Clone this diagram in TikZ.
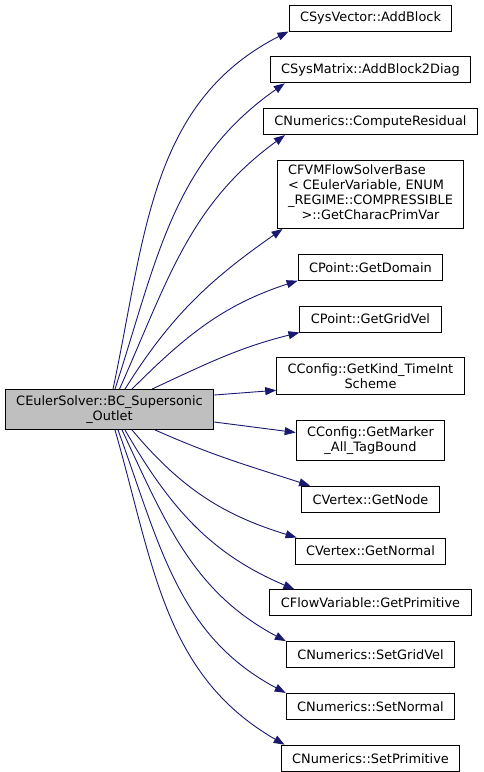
\documentclass[tikz,border=0pt]{standalone}
\usepackage{fontspec}
\setmainfont{DejaVu Sans}
\usetikzlibrary{arrows.meta,positioning}
\definecolor{edgeblue}{HTML}{191970}
\definecolor{callerfill}{HTML}{BFBFBF}

\begin{document}
\begin{tikzpicture}[x=1pt, y=1pt, node distance=24.8pt, every node/.style={align=center}]
        % 样式
        \tikzstyle{func} = [rectangle, draw=black, line width=1pt, fill=white, minimum height=26pt, inner xsep=11pt, inner ysep=6pt, text centered, font=\fontsize{12.9}{15}\selectfont]
        \tikzstyle{caller} = [func, fill=callerfill]
        \tikzstyle{arrow} = [edgeblue, line width=0.9pt, -{Triangle[length=11pt,width=8pt]}]

        \useasboundingbox (0,0) rectangle (484,-772);

        % 节点
        \node (solver) [caller] at (109.5,-409.5) {CEulerSolver::BC\_Supersonic\\\_Outlet};
        \node (callee1) [func] at (370.5,-18) {CSysVector::AddBlock};
        \node (callee2) [func, below=of callee1] {CSysMatrix::AddBlock2Diag};
        \node (callee3) [func, below=of callee2] {CNumerics::ComputeResidual};
        \node (callee4) [func, below=of callee3, inner ysep=4pt] {\begin{tabular}{@{}l@{}}CFVMFlowSolverBase\\< CEulerVariable, ENUM\\\_REGIME::COMPRESSIBLE\\\multicolumn{1}{@{}c@{}}{>::GetCharacPrimVar}\end{tabular}};
        \node (callee5) [func, below=of callee4] {CPoint::GetDomain};
        \node (callee6) [func, below=of callee5] {CPoint::GetGridVel};
        \node (callee7) [func, below=of callee6] {CConfig::GetKind\_TimeInt\\Scheme};
        \node (callee8) [func, below=of callee7] {CConfig::GetMarker\\\_All\_TagBound};
        \node (callee9) [func, below=of callee8] {CVertex::GetNode};
        \node (callee10) [func, below=of callee9] {CVertex::GetNormal};
        \node (callee11) [func, below=of callee10] {CFlowVariable::GetPrimitive};
        \node (callee12) [func, below=of callee11] {CNumerics::SetGridVel};
        \node (callee13) [func, below=of callee12] {CNumerics::SetNormal};
        \node (callee14) [func, below=of callee13] {CNumerics::SetPrimitive};

        % 调用关系
        \draw [arrow] ([xshift=3.5pt]solver.north) to[out=78, in=207] ([xshift=0pt]callee1.south west);
        \draw [arrow] ([xshift=5.5pt]solver.north) to[out=72, in=215] ([xshift=15pt]callee2.south west);
        \draw [arrow] ([xshift=10pt]solver.north) to[out=66, in=216] ([xshift=22pt]callee3.south west);
        \draw [arrow] ([xshift=15.5pt]solver.north) to[out=58, in=215] ([xshift=6pt]callee4.south west);
        \draw [arrow] ([xshift=22.5pt]solver.north) to[out=45, in=198] (callee5.south west);
        \draw [arrow] ([xshift=42.5pt]solver.north) to[out=25, in=194] (callee6.south west);
        \draw [arrow] ([yshift=14.5pt]solver.east) -- ([yshift=-14pt]callee7.west);
        \draw [arrow] ([yshift=-12.5pt]solver.east) -- ([yshift=8pt]callee8.west);
        \draw [arrow] ([xshift=45.5pt]solver.south) to[out=-24, in=162] ([xshift=9pt]callee9.north west);
        \draw [arrow] ([xshift=22.5pt]solver.south) to[out=-50, in=163] ([xshift=2pt]callee10.north west);
        \draw [arrow] ([xshift=15.5pt]solver.south) to[out=-60, in=157] ([xshift=25pt]callee11.north west);
        \draw [arrow] ([xshift=12.5pt]solver.south) to[out=-65, in=152] (callee12.north west);
        \draw [arrow] ([xshift=8.5pt]solver.south) to[out=-70, in=152] (callee13.north west);
        \draw [arrow] ([xshift=5.5pt]solver.south) to[out=-74, in=150] ([xshift=4pt]callee14.north west);
    \end{tikzpicture}
\end{document}
